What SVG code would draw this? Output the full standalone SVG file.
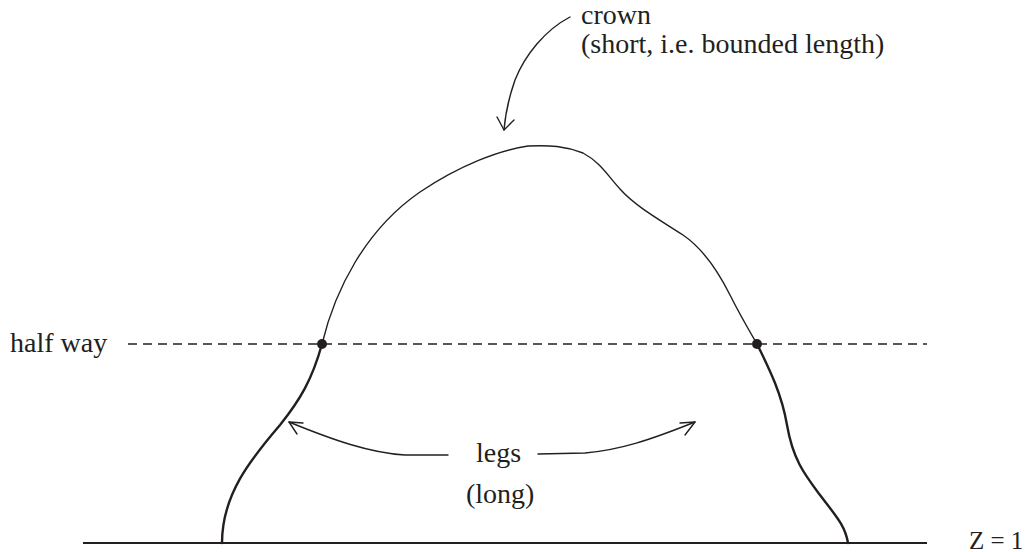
<svg xmlns="http://www.w3.org/2000/svg" width="1035" height="552" viewBox="0 0 1035 552">
<style>
text{font-family:"Liberation Serif","Times New Roman",serif;font-size:28px;fill:#231f20}
.thin{fill:none;stroke:#231f20;stroke-width:1.4;stroke-linecap:round;stroke-linejoin:round}
.leg{fill:none;stroke:#231f20;stroke-width:2.4;stroke-linecap:round}
.base{fill:none;stroke:#231f20;stroke-width:1.8}
.dash{fill:none;stroke:#231f20;stroke-width:1.6;stroke-dasharray:9 6}
</style>
<g id="baseline">
<line class="base" x1="83" y1="543" x2="927" y2="543"/>
<text x="969" y="549" style="font-size:25px">Z = 1</text>
</g>
<g id="halfway">
<line class="dash" x1="128" y1="344" x2="927" y2="344"/>
<text x="10" y="352">half way</text>
</g>
<g id="crown">
<path class="thin" d="M322,344 C335,290 365,230 420,192 C460,165 500,150 528,146 C550,145 565,146 583,153 C600,162 608,176 620,189 C635,206 660,220 683,235 C705,250 720,275 730,295 C740,315 750,332 757,344"/>
<text x="581" y="24">crown</text>
<text x="581" y="53">(short, i.e. bounded length)</text>
</g>
<g id="legs">
<path class="leg" d="M322,344 C312,380 300,400 280,425 C250,460 222,495 222,543"/>
<path class="leg" d="M757,344 C770,370 782,395 787,425 C793,460 805,475 820,495 C835,515 845,525 848,543"/>
<circle cx="322" cy="344" r="5" fill="#231f20"/>
<circle cx="757" cy="344" r="5" fill="#231f20"/>
<text x="476" y="462">legs</text>
<text x="466" y="503">(long)</text>
</g>
<g id="connectors">
<path class="thin" d="M570,17 C545,30 525,55 515,80 C508,100 505,118 504,130"/>
<polyline class="thin" points="497,117 504,130 514,120"/>
<path class="thin" d="M448,455 L405,455 C370,453 333,440 289,422"/>
<polyline class="thin" points="303,423 289,422 297,434"/>
<path class="thin" d="M538,454 L585,453 C620,450 650,440 695,422"/>
<polyline class="thin" points="680,423 695,422 685,435"/>
</g>
</svg>
